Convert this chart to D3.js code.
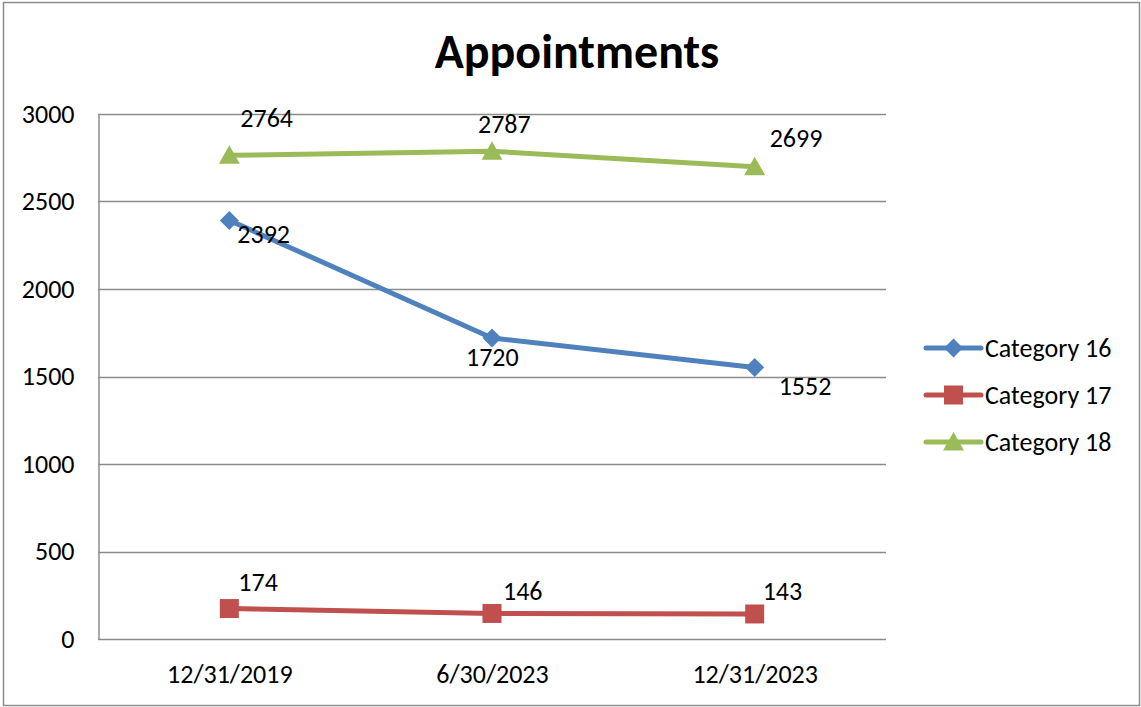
<!DOCTYPE html>
<html>
<head>
	<meta charset="utf-8">
	<title>Appointments</title>
	<script src="https://d3js.org/d3.v7.min.js"></script>
	<style>
		html, body {
			margin: 0;
			background: #fff;
		}
		text {
			font-family: Carlito, Calibri, "Noto Sans", sans-serif;
		}
	</style>
</head>
<body>
	<svg id="svg"></svg>
	<script>
		// chart values
		const categories = ["12/31/2019", "6/30/2023", "12/31/2023"];
		const seriesNames = ["Category 16", "Category 17", "Category 18"];
		const cat16 = [2392, 1720, 1552];
		const cat17 = [174, 146, 143];
		const cat18 = [2764, 2787, 2699];
		const yTicks = [0, 500, 1000, 1500, 2000, 2500, 3000];

		const colors = ["#4F81BD", "#C0504D", "#9BBB59"];
		// label offsets (dx, dy) relative to each point, per series
		const labelOffsets = [
			[[8, 23], [-26, 28], [24, 28]],
			[[9, -18], [11, -13], [8, -14]],
			[[11, -28], [-14, -18], [15, -20]]
		];

		// marker shapes
		const diamond = "M0,-9.5L9.5,0L0,9.5L-9.5,0Z";
		const square = "M-9.5,-9.5H9.5V9.5H-9.5Z";
		const triangle = "M0,-10L10.5,8.5H-10.5Z";
		const markers = [diamond, square, triangle];

		const series = [cat16, cat17, cat18].map((values, i) => ({
			name: seriesNames[i],
			values: values,
			color: colors[i],
			marker: markers[i],
			offsets: labelOffsets[i]
		}));

		const width = 1141, height = 707;
		const plot = {left: 98, right: 886, top: 114, bottom: 639};
		const fontSize = 26;

		const svg = d3.select("#svg")
		.attr("width", width)
		.attr("height", height);

		svg.append("rect")
		.attr("x", 3.5).attr("y", 2.5)
		.attr("width", width - 5).attr("height", height - 4)
		.attr("fill", "#fff")
		.attr("stroke", "#8c8c8c")
		.attr("stroke-width", 1.5);

		const x = d3.scalePoint()
		.domain(categories)
		.range([plot.left, plot.right])
		.padding(0.5);

		const y = d3.scaleLinear()
		.domain([0, 3000])
		.range([plot.bottom, plot.top]);

		// gridlines
		svg.append("g")
		.selectAll("line")
		.data(yTicks.filter(d => d > 0))
		.enter()
		.append("line")
		.attr("x1", plot.left).attr("x2", plot.right)
		.attr("y1", d => Math.round(y(d)) + 0.5)
		.attr("y2", d => Math.round(y(d)) + 0.5)
		.attr("stroke", "#8c8c8c")
		.attr("stroke-width", 1.5);

		// y axis
		const yAxis = svg.append("g")
		.attr("transform", `translate(${plot.left + 0.5}, 0)`)
		.call(d3.axisLeft(y).tickValues(yTicks).tickFormat(d3.format("d")).tickSize(0).tickPadding(24));
		yAxis.select(".domain").attr("stroke", "#8c8c8c").attr("stroke-width", 1.5);
		yAxis.selectAll("text")
		.attr("font-size", fontSize)
		.attr("fill", "#000")
		.attr("font-family", null);

		// x axis
		const xAxis = svg.append("g")
		.attr("transform", `translate(0, ${plot.bottom + 0.5})`)
		.call(d3.axisBottom(x).tickSize(0).tickPadding(25));
		xAxis.select(".domain")
		.attr("d", `M${plot.left},0H${plot.right}`)
		.attr("stroke", "#8c8c8c").attr("stroke-width", 1.5);
		xAxis.selectAll("text")
		.attr("font-size", fontSize)
		.attr("fill", "#000")
		.attr("font-family", null);

		// title
		svg.append("text")
		.attr("x", 577)
		.attr("y", 68)
		.attr("text-anchor", "middle")
		.attr("font-size", 48)
		.attr("font-weight", "bold")
		.text("Appointments");

		const line = d3.line()
		.x((d, i) => x(categories[i]))
		.y(d => y(d));

		const groups = svg.selectAll(".series")
		.data(series)
		.enter()
		.append("g")
		.attr("class", "series");

		groups.append("path")
		.attr("fill", "none")
		.attr("stroke", d => d.color)
		.attr("stroke-width", 5)
		.attr("stroke-linejoin", "round")
		.attr("d", d => line(d.values));

		groups.each(function(s) {
			const g = d3.select(this);
			g.selectAll(".marker")
			.data(s.values)
			.enter()
			.append("path")
			.attr("class", "marker")
			.attr("transform", (d, i) => `translate(${x(categories[i])}, ${y(d)})`)
			.attr("d", s.marker)
			.attr("fill", s.color);

			g.selectAll(".label")
			.data(s.values)
			.enter()
			.append("text")
			.attr("class", "label")
			.attr("x", (d, i) => x(categories[i]) + s.offsets[i][0])
			.attr("y", (d, i) => y(d) + s.offsets[i][1])
			.attr("font-size", fontSize)
			.text(d => d);
		});

		// legend
		const legend = svg.append("g")
		.selectAll("g")
		.data(series)
		.enter()
		.append("g")
		.attr("transform", (d, i) => `translate(926, ${348 + i * 47})`);

		legend.append("line")
		.attr("x1", 0).attr("x2", 55)
		.attr("stroke", d => d.color)
		.attr("stroke-width", 5)
		.attr("stroke-linecap", "round");

		legend.append("path")
		.attr("transform", "translate(27.5, 0)")
		.attr("d", d => d.marker)
		.attr("fill", d => d.color);

		legend.append("text")
		.attr("x", 59)
		.attr("y", 0)
		.attr("dy", "0.35em")
		.attr("font-size", fontSize)
		.text(d => d.name);
	</script>
</body>
</html>
